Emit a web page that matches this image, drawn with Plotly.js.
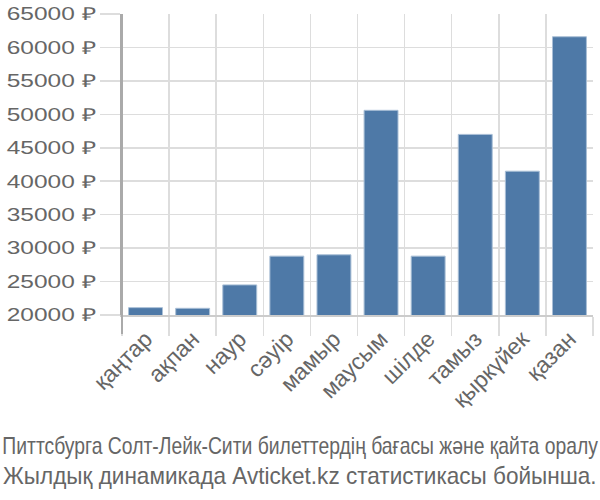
<!DOCTYPE html>
<html>
<head>
<meta charset="utf-8">
<script src="https://cdn.plot.ly/plotly-3.0.1.min.js"></script>
<style>
html,body{margin:0;padding:0;background:#fff;}
#chart{width:600px;height:500px;}
</style>
</head>
<body>
<div id="chart"></div>
<script>
const months = ["қаңтар","ақпан","наур","сәуір","мамыр","маусым","шілде","тамыз","қыркүйек","қазан"];
const prices = [21100, 21000, 24500, 28800, 29000, 50600, 28800, 47000, 41500, 61600];
const yTickValues = [20000, 25000, 30000, 35000, 40000, 45000, 50000, 55000, 60000, 65000];
const titleLine1 = "Питтсбурга Солт-Лейк-Сити билеттердің бағасы және қайта оралу";
const titleLine2 = "Жылдық динамикада Avticket.kz статистикасы бойынша.";

const FONT = "'Liberation Sans', Arial, sans-serif";
const GREY = "#666666";
const GRID = "#dddddd";

const trace = {
  type: "bar",
  x: months,
  y: prices,
  marker: {color: "#4e79a7", line: {color: "#a9bfd6", width: 1}},
  hoverinfo: "skip"
};

const layout = {
  width: 600, height: 500,
  margin: {l: 122, r: 7, t: 14, b: 185, pad: 0},
  paper_bgcolor: "#ffffff", plot_bgcolor: "#ffffff",
  showlegend: false,
  bargap: 0.28,
  font: {family: FONT, color: GREY, size: 18},
  xaxis: {
    type: "category",
    tickson: "boundaries",
    ticks: "outside", ticklen: 19, tickwidth: 1.5, tickcolor: GRID,
    showgrid: true, gridcolor: GRID, gridwidth: 1.5,
    showline: true, linecolor: "#cccccc", linewidth: 1.5,
    tickangle: -45,
    tickfont: {family: FONT, size: 23, color: GREY},
    fixedrange: true
  },
  yaxis: {
    range: [20000, 65000],
    tickmode: "array",
    tickvals: yTickValues,
    ticktext: yTickValues.map(v => v + " ₽"),
    ticks: "outside", ticklen: 20, tickwidth: 1.5, tickcolor: GRID,
    showgrid: true, gridcolor: GRID, gridwidth: 1.5,
    showline: true, linecolor: "#aaaaaa", linewidth: 2,
    zeroline: false,
    tickfont: {family: FONT, size: 18, color: GREY},
    fixedrange: true
  },
  shapes: [{
    type: "line", xref: "paper", yref: "paper",
    x0: 0, x1: 0, y0: -19/301, y1: 1,
    line: {color: "#aaaaaa", width: 2}
  }],
  annotations: [
    {text: titleLine1, xref: "paper", yref: "paper", x: (300-122)/471, y: (315-446)/301,
     xanchor: "center", yanchor: "middle", showarrow: false,
     font: {family: FONT, size: 23, color: GREY}},
    {text: titleLine2, xref: "paper", yref: "paper", x: (300-122)/471, y: (315-476)/301,
     xanchor: "center", yanchor: "middle", showarrow: false,
     font: {family: FONT, size: 23, color: GREY}}
  ]
};

function stretch(t, s, anchor) {
  const bb = t.getBBox();
  const xr = anchor === "center" ? bb.x + bb.width / 2 : bb.x + bb.width;
  const tr = t.getAttribute("transform") || "";
  t.setAttribute("transform", tr + ` translate(${xr},0) scale(${s},1) translate(${-xr},0)`);
}

Plotly.newPlot("chart", [trace], layout, {staticPlot: true, displayModeBar: false}).then(() => {
  document.querySelectorAll(".ytick text").forEach(t => stretch(t, 1.36, "end"));
  document.querySelectorAll(".annotation text").forEach(t => {
    const w = t.getBBox().width;
    if (t.textContent === titleLine1) {
      stretch(t, 596 / w, "center");
    } else if (t.textContent === titleLine2 && w > 594) {
      stretch(t, 594 / w, "center");
    }
  });
});
</script>
</body>
</html>
